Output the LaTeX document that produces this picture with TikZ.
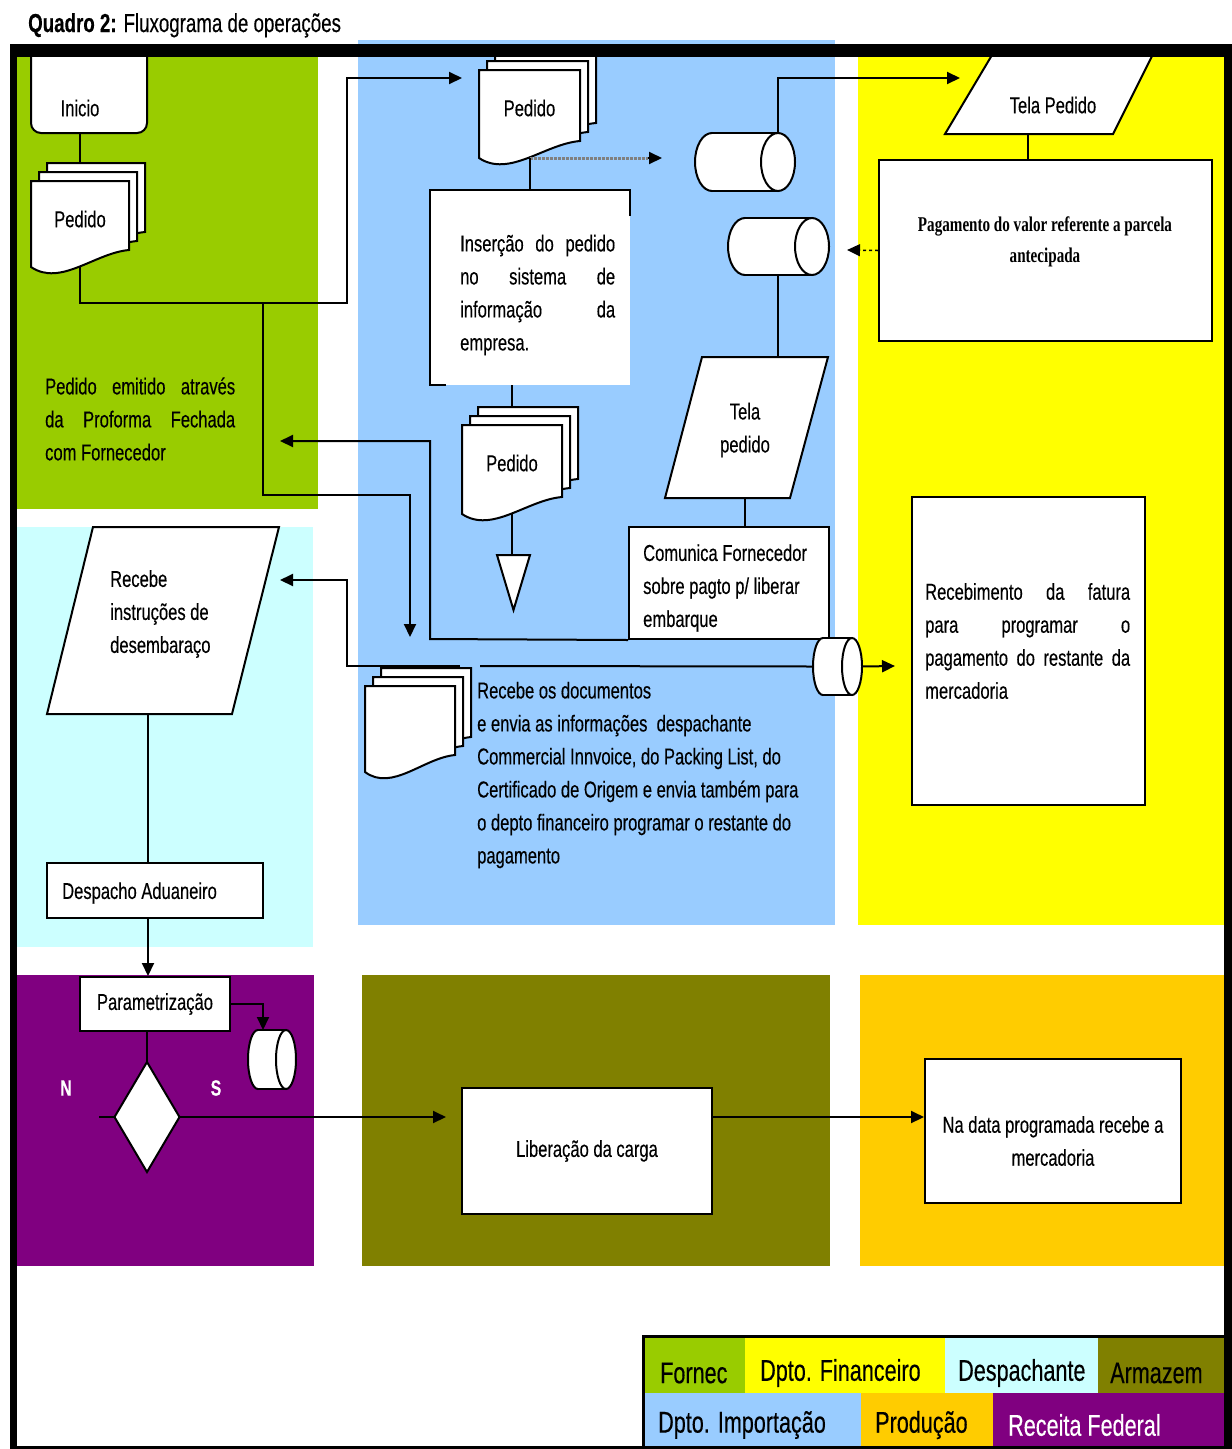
\documentclass[tikz,border=0pt]{standalone}
\usepackage{fontspec}
\setmainfont{Liberation Sans}[FakeStretch=0.72,FakeBold=0.3]
\newfontfamily\serifc{Liberation Serif}[FakeStretch=0.72]
\usetikzlibrary{arrows.meta}
\definecolor{cGreen}{HTML}{99CC00}
\definecolor{cBlue}{HTML}{99CCFF}
\definecolor{cYellow}{HTML}{FFFF00}
\definecolor{cCyan}{HTML}{CCFFFF}
\definecolor{cPurple}{HTML}{800080}
\definecolor{cOlive}{HTML}{808000}
\definecolor{cOrange}{HTML}{FFCC00}
\tikzset{
  shp/.style={draw=black, fill=white, line width=2pt},
  conn/.style={draw=black, line width=2pt},
  arr/.style={conn, -{Triangle[length=13pt,width=12pt]}},
  txt/.style={inner sep=0, align=left, font=\fontsize{23}{33}\selectfont},
  ctxt/.style={inner sep=0, align=center, font=\fontsize{23}{33}\selectfont},
  box/.style={shp, inner sep=0},
  ghost/.style={inner sep=0, outer sep=0},
  legc/.style={inner sep=0, outer sep=0, draw=none},
  legt/.style={inner sep=0, anchor=west, font=\fontsize{30}{34}\selectfont},
}
% document sheet: x y w h
\newcommand\docsheet[4]{\filldraw[shp] (#1,#2) -- ({#1+#3},#2) -- ({#1+#3},{#2+#4-25})
  .. controls ({#1+0.65*#3},{#2+#4-22}) and ({#1+0.3*#3},{#2+#4+12}) .. (#1,{#2+#4-8}) -- cycle;}
% multi document: name x y w h text
\newcommand\multidoc[6]{%
  \docsheet{#2+16}{#3-18}{#4}{#5}
  \docsheet{#2+8}{#3-9}{#4}{#5}
  \docsheet{#2}{#3}{#4}{#5}
  \node[ghost, minimum width=#4, minimum height=#5, anchor=north west] (#1) at (#2,#3) {};
  \node[ctxt] (#1-t) at ({#2+#4/2},{#3+38}) {#6};
  \coordinate (#1-b) at ({#2+#4/2},{#3+#5-8});
  \coordinate (#1-top) at ({#2+#4/2},{#3-18});
}
% horizontal cylinder: name x1 y1 x2 y2 rx
\newcommand\hcyl[6]{%
  \fill[white] ({#2+#6},#3) rectangle ({#4-#6},#5);
  \filldraw[shp] ({#2+#6},{(#3+#5)/2}) ellipse [x radius=#6, y radius={(#5-#3)/2}];
  \fill[white] ({#2+#6},{#3+1}) rectangle ({#4-#6},{#5-1});
  \draw[conn] ({#2+#6},#3) -- ({#4-#6},#3) ({#2+#6},#5) -- ({#4-#6},#5);
  \filldraw[shp] ({#4-#6},{(#3+#5)/2}) ellipse [x radius=#6, y radius={(#5-#3)/2}];
  \node[ghost, minimum width={#4-#2}, minimum height={#5-#3}] (#1) at ({(#2+#4)/2},{(#3+#5)/2}) {};
  \coordinate (#1-re) at ({#4-#6},#3);
}
\begin{document}
\begin{tikzpicture}[x=1pt,y=-1pt]
\useasboundingbox (0,0) rectangle (1232,1449);
\fill[white] (0,0) rectangle (1232,1449);
% ---------- lanes ----------
\fill[cGreen]  (17,44) rectangle (318,509);
\fill[cBlue]   (358,40) rectangle (835,925);
\fill[cYellow] (858,50) rectangle (1224,925);
\fill[cCyan]   (17,527) rectangle (313,947);
\fill[cPurple] (17,975) rectangle (314,1266);
\fill[cOlive]  (362,975) rectangle (830,1266);
\fill[cOrange] (860,975) rectangle (1224,1266);
% ---------- title ----------
\node[inner sep=0, anchor=base west, font=\fontsize{26}{30}\selectfont] (title) at (28,32) {\textbf{Quadro 2:} Fluxograma de operações};
% ---------- green lane ----------
\filldraw[shp, rounded corners=10pt] (31,50) -- (31,133) -- (147,133) -- (147,50);
\node[ghost, minimum width=116, minimum height=76] (inicio) at (89,95) {};
\node[ctxt] (inicio-t) at (80,108) {Inicio};
\multidoc{pedA}{31}{181}{98}{94}{Pedido}
\node[txt, anchor=west] (fornecTxt) at (45,419) {\makebox[190pt][s]{Pedido emitido através}\\\makebox[190pt][s]{da Proforma Fechada}\\com Fornecedor};
% ---------- blue lane ----------
\multidoc{pedB}{479}{70}{101}{96}{Pedido}
\fill[white] (430,190) rectangle (630,385);
\draw[conn] (630,216) -- (630,190) -- (430,190) -- (430,385) -- (446,385);
\node[ghost, minimum width=200, minimum height=195] (insercao) at (530,287.5) {};
\node[txt, anchor=west] (insercao-t) at (460,295) {\makebox[155pt][s]{Inserção do pedido}\\\makebox[155pt][s]{no sistema de}\\\makebox[155pt][s]{informação da}\\empresa.};
\multidoc{pedC}{462}{425}{100}{97}{Pedido}
\node[ghost, minimum width=33, minimum height=55] (merge) at (513.5,582.5) {};
\filldraw[shp] (merge.north west) -- (merge.north east) -- (merge.south) -- cycle;
\hcyl{cyl1}{695}{133}{795}{191}{17}
\hcyl{cyl2}{728}{218}{829}{275}{17}
\filldraw[shp] (702,357) -- (828,357) -- (790,498) -- (665,498) -- cycle;
\node[ctxt] (telaP2) at (745,430) {Tela\\pedido};
\coordinate (tp2top) at (778,357);
\coordinate (tp2bot) at (745,498);
\node[box, minimum width=200, minimum height=112] (comunica) at (729,583) {};
\begin{scope}
  \clip (631,529) rectangle (827,636);
  \node[txt, anchor=west] (comunica-t) at (643,588) {Comunica Fornecedor\\sobre pagto p/ liberar\\embarque};
\end{scope}
\multidoc{pedD}{365}{686}{90}{94}{}
\node[txt, anchor=west] (docsTxt) at (477,775) {Recebe os documentos\\e envia as informações\ \ despachante\\Commercial Innvoice, do Packing List, do\\Certificado de Origem e envia também para\\o depto financeiro programar o restante do\\pagamento};
\hcyl{cyl3}{813}{638}{862}{695}{10}
% ---------- yellow lane ----------
\filldraw[shp] (995,50) -- (1155,50) -- (1113,134) -- (945,134) -- cycle;
\node[ctxt] (telaP) at (1053,105) {Tela Pedido};
\coordinate (telaP-s) at (1028,134);
\node[box, minimum width=333, minimum height=181] (pagamento) at (1045.5,250.5) {};
\node[inner sep=0, align=center, font=\serifc\bfseries\fontsize{21}{31}\selectfont] (pagamento-t) at (1045,242) {Pagamento do valor referente a parcela\\antecipada};
\node[box, minimum width=233, minimum height=308] (recebimento) at (1028.5,651) {};
\node[txt, anchor=west] (recebimento-t) at (925,641) {\makebox[205pt][s]{Recebimento da fatura}\\\makebox[205pt][s]{para programar o}\\\makebox[205pt][s]{pagamento do restante da}\\mercadoria};
% ---------- cyan lane ----------
\filldraw[shp] (93,527) -- (279,527) -- (232,714) -- (47,714) -- cycle;
\node[txt, anchor=west] (recinstr) at (110,614) {Recebe\\instruções de\\desembaraço};
\coordinate (ri-bot) at (148,714);
\node[box, minimum width=216, minimum height=55] (despacho) at (155,890.5) {};
\node[txt, anchor=west] (despacho-t) at (62,893) {Despacho Aduaneiro};
% ---------- purple lane ----------
\node[box, minimum width=150, minimum height=54, font=\fontsize{23}{33}\selectfont] (param) at (155,1004) {Parametrização};
\hcyl{cyl4}{248}{1030}{296}{1089}{10}
\node[ghost, minimum width=65, minimum height=110] (dec) at (147,1117) {};
\filldraw[shp] (dec.north) -- (dec.east) -- (dec.south) -- (dec.west) -- cycle;
\node[inner sep=0, text=white, font=\bfseries\fontsize{22}{26}\selectfont] (labN) at (66,1088) {N};
\node[inner sep=0, text=white, font=\bfseries\fontsize{22}{26}\selectfont] (labS) at (216,1088) {S};
% ---------- olive / orange lanes ----------
\node[box, minimum width=250, minimum height=126, font=\fontsize{23}{33}\selectfont] (liberacao) at (587,1151) {Liberação da carga};
\node[box, minimum width=256, minimum height=144] (nadata) at (1053,1131) {};
\node[ctxt] (nadata-t) at (1053,1141) {Na data programada recebe a\\mercadoria};
% ---------- named free ends ----------
\coordinate (jA) at (263,303);
\coordinate (pedB-in) at (462,78);
\coordinate (pedD-in) at (410,637);
\coordinate (fornec-in) at (280,441);
\coordinate (recinstr-in) at (280,580);
\coordinate (gapR) at (480,666);
\coordinate (gapL) at (460,666);
\coordinate (receb-in) at (895,666);
\coordinate (cyl1-d) at (648,158);
\coordinate (cyl1-in) at (662,158);
\coordinate (telaP-in) at (960,78);
\coordinate (cyl2-in) at (847,250);
\coordinate (c4in) at (263,1030);
\coordinate (decN) at (99,1117);
% ---------- connectors ----------
\draw[conn] (pedA-top |- inicio.south) -- (pedA-top);
\draw[arr] (pedA-b) |- (347,303) |- (pedB-in);
\draw[arr] (jA) -- (263,495) -| (pedD-in);
\draw[arr] (comunica.south west) -- (430,639) |- (fornec-in);
\draw[conn] (cyl3.west) -- (gapR);
\draw[arr] (gapL) -- (347,666) |- (recinstr-in);
\draw[arr] (cyl3.east) -- (receb-in);
\draw[gray, densely dotted, line width=3pt] (pedB-b) -- (cyl1-d);
\draw[arr] (cyl1-d) -- (cyl1-in);
\draw[conn] (pedB-b) -- (pedB-b |- insercao.north);
\draw[conn] (pedC-top |- insercao.south) -- (pedC-top);
\draw[conn] (pedC-b) -- (pedC-b |- merge.north);
\draw[arr] (cyl1-re) |- (telaP-in);
\draw[conn] (telaP-s) -- (telaP-s |- pagamento.north);
\draw[black, dashed, line width=1.5pt, -{Triangle[length=13pt,width=12pt]}] (pagamento.west) -- (cyl2-in);
\draw[conn] (cyl2.south -| tp2top) -- (tp2top);
\draw[conn] (tp2bot) -- (tp2bot |- comunica.north);
\draw[conn] (ri-bot) -- (ri-bot |- despacho.north);
\draw[arr] (ri-bot |- despacho.south) -- (ri-bot |- param.north);
\draw[arr] (param.east) -| (c4in);
\draw[conn] (dec.north |- param.south) -- (dec.north);
\draw[conn] (dec.west) -- (decN);
\draw[arr, shorten >=15pt] (dec.east) -- (dec.east -| liberacao.west);
\draw[arr] (liberacao.east |- dec.east) -- (dec.east -| nadata.west);
% ---------- legend ----------
\node[legc, fill=cGreen, minimum width=100, minimum height=56] (lgFornec) at (695,1365) {};
\node[legc, fill=cYellow, minimum width=200, minimum height=56] (lgFin) at (845,1365) {};
\node[legc, fill=cCyan, minimum width=153, minimum height=56] (lgDesp) at (1021.5,1365) {};
\node[legc, fill=cOlive, minimum width=126, minimum height=56] (lgArm) at (1161,1365) {};
\node[legc, fill=cBlue, minimum width=216, minimum height=56] (lgImp) at (753,1421) {};
\node[legc, fill=cOrange, minimum width=132, minimum height=56] (lgProd) at (927,1421) {};
\node[legc, fill=cPurple, minimum width=231, minimum height=56] (lgRF) at (1108.5,1421) {};
\node[legt] (lgFornec-t) at (660,1373) {Fornec};
\node[legt] (lgFin-t) at (760,1373) {Dpto. Financeiro};
\node[legt] (lgDesp-t) at (958,1373) {Despachante};
\node[legt] (lgArm-t) at (1110,1373) {Armazem};
\node[legt] (lgImp-t) at (658,1425) {Dpto. Importação};
\node[legt] (lgProd-t) at (875,1425) {Produção};
\node[legt, text=white] (lgRF-t) at (1008,1425) {Receita Federal};
\draw[black, line width=3pt] (643,1449) -- (643,1336) -- (1224,1336);
% ---------- frame ----------
\fill[black] (10,44) rectangle (1232,57);
\fill[black] (10,44) rectangle (17,1449);
\fill[black] (1224,44) rectangle (1232,1449);
\fill[black] (10,1446) rectangle (1232,1449);
\end{tikzpicture}
\end{document}
